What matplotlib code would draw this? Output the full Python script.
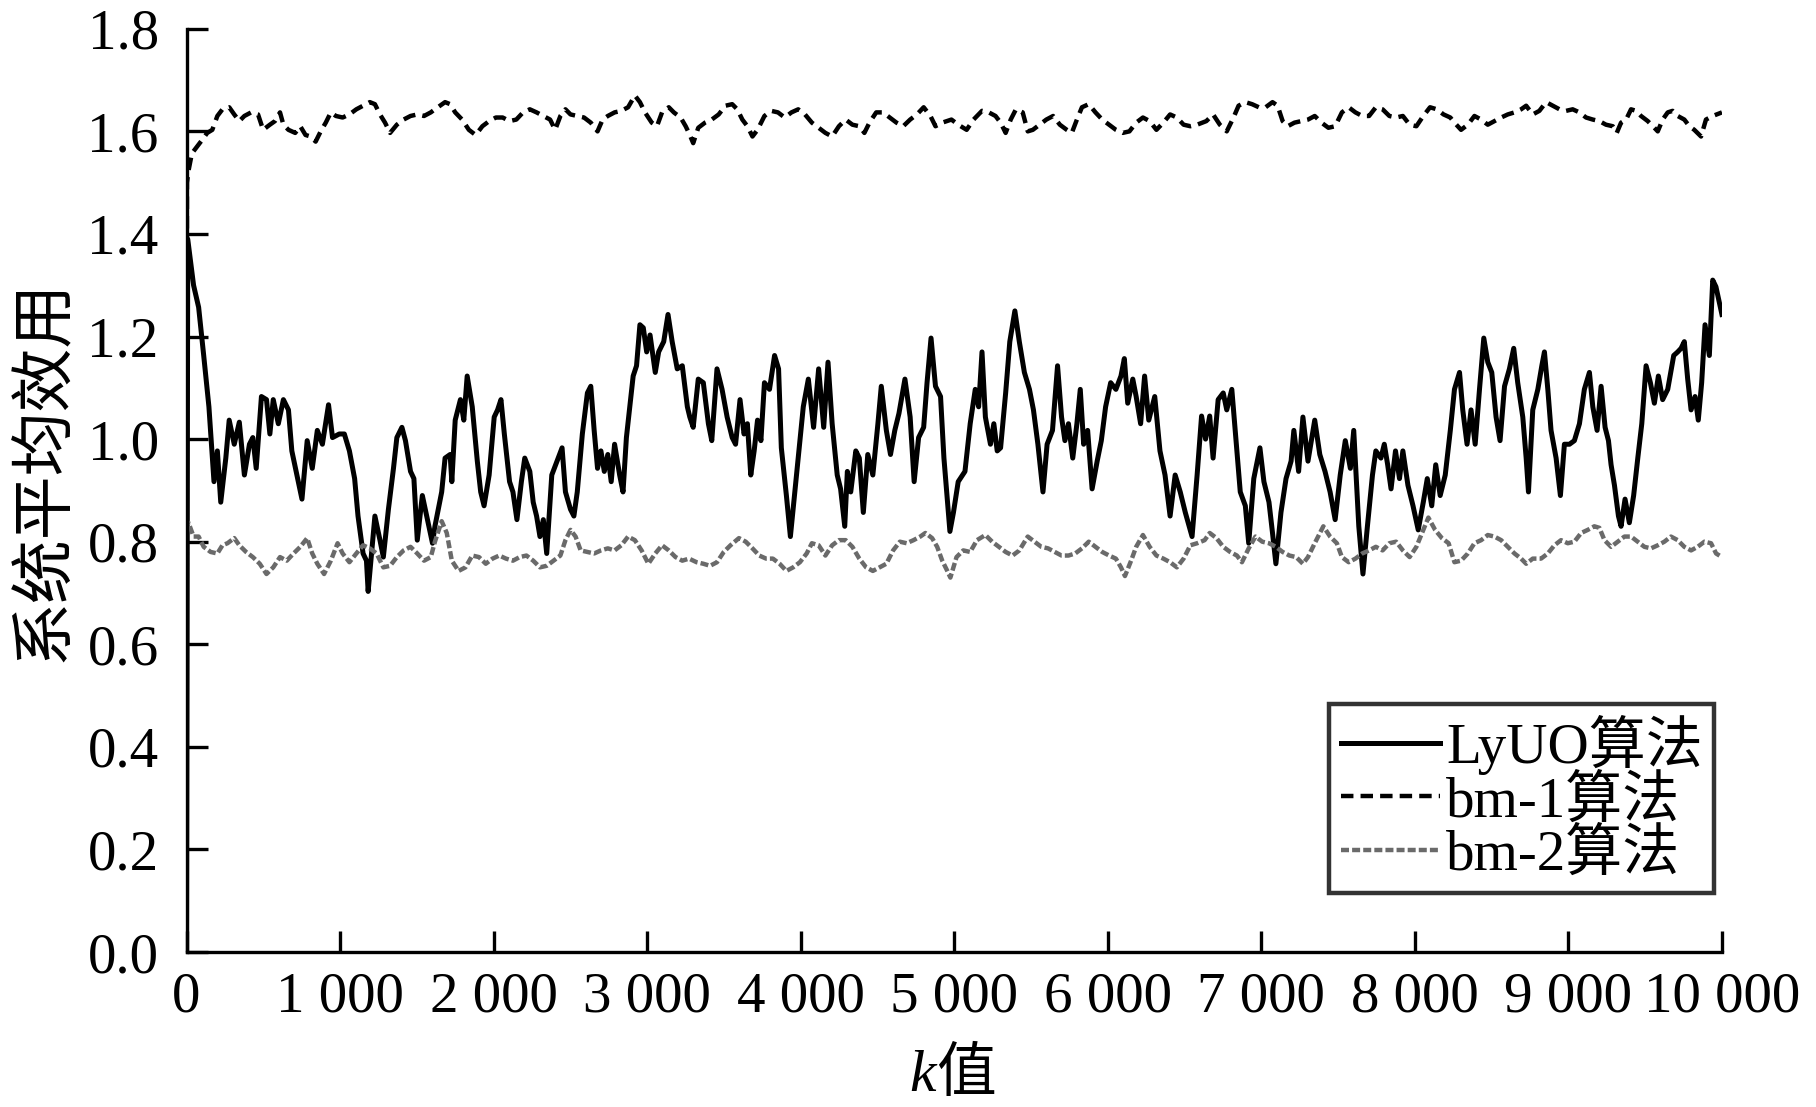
#system average utility vs k for three algorithms
import matplotlib
matplotlib.use("Agg")
import matplotlib.pyplot as plt
from matplotlib.ticker import FuncFormatter, MultipleLocator

#values
lyuo_k = [0, 8, 46, 79, 112, 146, 179, 201, 223, 256, 278, 311, 344, 377, 410, 432, 454, 488, 521, 543, 565, 598,
          631, 664, 686, 719, 752, 786, 819, 852, 885, 925, 951, 995, 1028, 1061, 1095, 1117, 1150, 1172, 1183,
          1205, 1227, 1260, 1282, 1315, 1348, 1370, 1403, 1426, 1459, 1481, 1503, 1536, 1569, 1602,
          1618, 1662, 1684, 1717, 1728, 1750, 1784, 1806, 1828, 1861, 1894, 1916, 1938, 1971, 2004, 2026, 2048,
          2070, 2104, 2126, 2152, 2181, 2203, 2236, 2258, 2280, 2302, 2324, 2346, 2379, 2413, 2446, 2468, 2501,
          2523, 2545, 2578, 2611, 2633, 2655, 2677, 2699, 2721, 2744, 2766, 2788, 2821, 2843, 2865, 2887, 2909,
          2931, 2953, 2975, 2997, 3019, 3053, 3075, 3108, 3136, 3163, 3196, 3229, 3262,
          3278, 3300, 3333, 3366, 3399, 3421, 3455, 3488, 3521, 3554, 3576, 3605, 3631, 3653, 3675, 3697, 3719,
          3741, 3764, 3797, 3830, 3856, 3874, 3907, 3933, 3962, 3989, 4017, 4050, 4084, 4117, 4150, 4178, 4205,
          4238, 4260, 4287, 4304, 4326, 4359, 4382, 4408, 4437, 4470, 4503, 4525, 4558, 4585, 4613, 4640, 4679,
          4713, 4739, 4768, 4801, 4823, 4849, 4878, 4911, 4933,
          4950, 4972, 4995, 5026, 5070, 5104, 5137, 5159, 5181, 5203, 5236, 5258, 5280, 5302, 5335, 5362, 5395,
          5424, 5457, 5490, 5516, 5545, 5578, 5605, 5640, 5673, 5699, 5721, 5744, 5772, 5799, 5821, 5843, 5869,
          5898, 5931, 5958, 5986, 6019, 6053, 6086, 6108, 6130, 6163, 6185, 6214, 6240, 6267, 6306, 6340, 6373,
          6406, 6439, 6472, 6505, 6549, 6582,
          6611, 6637, 6664, 6686, 6719, 6752, 6775, 6808, 6841, 6863, 6896, 6918, 6951, 6991, 7017, 7050, 7073,
          7095, 7128, 7161, 7194, 7212, 7243, 7271, 7304, 7348, 7381, 7415, 7448, 7481, 7514, 7547, 7580, 7602,
          7635, 7662, 7691, 7724, 7746, 7779, 7801, 7823, 7845, 7874, 7900, 7922, 7955, 7988, 8022, 8055, 8081,
          8110, 8136, 8165, 8198, 8231,
          8258, 8291, 8312, 8340, 8366, 8393, 8421, 8449, 8475, 8501, 8529, 8555, 8584, 8616, 8644, 8670, 8703,
          8725, 8740, 8768, 8801, 8827, 8844, 8866, 8887, 8920, 8948, 8974, 9007, 9039, 9072, 9104, 9137, 9159,
          9187, 9213, 9239, 9261, 9278, 9300, 9326, 9343, 9369, 9397, 9425, 9452, 9478, 9506, 9534, 9560, 9586,
          9614, 9647, 9686, 9712, 9734, 9755, 9777, 9799, 9825, 9846, 9868, 9890, 9918, 9940, 9961, 10000]
lyuo_v = [0.0, 1.39, 1.30, 1.257, 1.163, 1.063, 0.917, 0.977, 0.877, 0.963, 1.037, 0.99, 1.033, 0.93, 0.99, 1.003,
          0.943, 1.083, 1.077, 1.01, 1.077, 1.03, 1.077, 1.057, 0.977, 0.93, 0.883, 0.997, 0.943, 1.017, 0.99,
          1.067, 1.003, 1.01, 1.01, 0.977, 0.923, 0.85, 0.777, 0.763, 0.703, 0.777, 0.85, 0.803, 0.77, 0.863,
          0.943, 1.003, 1.023, 0.997, 0.937, 0.923, 0.803, 0.89, 0.843, 0.797,
          0.83, 0.897, 0.963, 0.97, 0.917, 1.037, 1.077, 1.037, 1.123, 1.063, 0.957, 0.897, 0.87, 0.93, 1.043,
          1.057, 1.077, 1.01, 0.917, 0.897, 0.843, 0.917, 0.963, 0.937, 0.877, 0.85, 0.81, 0.843, 0.777, 0.93,
          0.957, 0.983, 0.897, 0.863, 0.85, 0.897, 1.01, 1.09, 1.103, 1.017, 0.943, 0.977, 0.937, 0.97, 0.917,
          0.99, 0.93, 0.897, 1.003, 1.063, 1.123, 1.143, 1.223, 1.217, 1.17, 1.203, 1.13, 1.17, 1.19, 1.243,
          1.19, 1.137, 1.143, 1.063,
          1.043, 1.023, 1.117, 1.11, 1.03, 0.997, 1.137, 1.097, 1.043, 1.003, 0.99, 1.077, 1.01, 1.03, 0.93,
          0.977, 1.037, 0.997, 1.11, 1.097, 1.163, 1.137, 0.983, 0.89, 0.81, 0.897, 0.977, 1.063, 1.117, 1.023,
          1.137, 1.023, 1.15, 1.03, 0.93, 0.903, 0.83, 0.937, 0.897, 0.977, 0.963, 0.857, 0.97, 0.93, 1.03,
          1.103, 1.017, 0.97, 1.017, 1.05, 1.117, 1.043, 0.917, 1.003, 1.023, 1.11, 1.197, 1.103, 1.083, 0.963,
          0.90, 0.82, 0.857, 0.917, 0.937, 1.03, 1.097, 1.063, 1.17, 1.043, 0.99, 1.03, 0.977, 0.983, 1.09, 1.19,
          1.25, 1.19, 1.13, 1.097, 1.057, 0.99, 0.897, 0.99, 1.017, 1.143, 1.043, 0.997, 1.03, 0.963, 1.03,
          1.097, 0.99, 1.017, 0.903, 0.957, 0.997, 1.063, 1.11, 1.097, 1.123, 1.157, 1.07, 1.117, 1.083, 1.03,
          1.123, 1.037, 1.083, 0.977, 0.93, 0.85, 0.93, 0.897, 0.857, 0.81, 0.93,
          1.045, 1.0, 1.045, 0.963, 1.077, 1.09, 1.057, 1.097, 0.977, 0.897, 0.87, 0.797, 0.923, 0.983, 0.917,
          0.877, 0.817, 0.757, 0.857, 0.923, 0.957, 1.017, 0.937, 1.043, 0.957, 1.037, 0.97, 0.937, 0.897,
          0.843, 0.93, 0.997, 0.943, 1.017, 0.83, 0.737, 0.83, 0.93, 0.977, 0.963, 0.99, 0.95, 0.903, 0.977,
          0.923, 0.977, 0.91, 0.87, 0.823, 0.877, 0.923, 0.87, 0.95, 0.89, 0.93, 1.017,
          1.097, 1.13, 1.057, 0.99, 1.057, 0.99, 1.097, 1.197, 1.15, 1.13, 1.043, 0.997, 1.103, 1.137, 1.177,
          1.11, 1.043, 0.963, 0.897, 1.057, 1.097, 1.143, 1.17, 1.097, 1.017, 0.963, 0.89, 0.99, 0.99, 0.997,
          1.03, 1.097, 1.13, 1.063, 1.017, 1.103, 1.023, 0.997, 0.95, 0.91, 0.85, 0.83, 0.883, 0.837, 0.89,
          0.963, 1.03, 1.143, 1.11, 1.07, 1.123, 1.077, 1.097, 1.163, 1.17, 1.177, 1.19, 1.117, 1.057, 1.083,
          1.037, 1.11, 1.223, 1.163, 1.31, 1.297, 1.243]

bm1_k = [0, 3, 13, 35, 68, 101, 135, 168, 201, 234, 278, 311, 344, 377, 421, 466, 499, 543, 576, 609, 631, 664,
         708, 741, 775, 808, 841, 874, 907, 940, 973, 1017, 1061, 1106, 1150, 1194, 1227, 1260, 1293, 1326, 1370,
         1414, 1459, 1503, 1547, 1591,
         1618, 1684, 1717, 1750, 1795, 1839, 1883, 1927, 1971, 2015, 2059, 2104, 2148, 2192, 2236, 2280, 2324,
         2368, 2401, 2435, 2468, 2501, 2545, 2589, 2633, 2677, 2710, 2744, 2788, 2832, 2876, 2920, 2953, 2986,
         3030, 3064, 3097, 3141, 3174, 3218, 3251,
         3278, 3300, 3333, 3377, 3421, 3466, 3510, 3554, 3587, 3620, 3653, 3686, 3719, 3764, 3808, 3852, 3896,
         3940, 3984, 4028, 4073, 4117, 4161, 4205, 4249, 4293, 4337, 4382, 4415, 4448, 4492, 4536, 4580, 4624,
         4668, 4713, 4757, 4801, 4845, 4878, 4922,
         4982, 5026, 5081, 5126, 5181, 5225, 5269, 5302, 5335, 5368, 5402, 5446, 5479, 5512, 5556, 5600, 5644,
         5688, 5733, 5766, 5799, 5832, 5876, 5920, 5964, 6009, 6053, 6097, 6141, 6185, 6229, 6273, 6317, 6362,
         6406, 6450, 6494, 6538, 6582,
         6642, 6686, 6730, 6775, 6819, 6852, 6896, 6940, 6984, 7028, 7073, 7106, 7139, 7172, 7216, 7260, 7304,
         7348, 7392, 7437, 7481, 7525, 7569, 7613, 7657, 7702, 7746, 7790, 7834, 7878, 7922, 7966, 8010, 8055,
         8099, 8143, 8187, 8231,
         8258, 8301, 8345, 8388, 8432, 8475, 8518, 8562, 8605, 8649, 8692, 8725, 8768, 8811, 8855, 8898, 8942,
         8985, 9028, 9072, 9115, 9159, 9202, 9245, 9289, 9315, 9343, 9376, 9408, 9441, 9473, 9517, 9560, 9582,
         9614, 9647, 9679, 9712, 9755, 9788, 9820, 9864, 9896, 9940, 10000]
bm1_v = [0.0, 1.50, 1.523, 1.557, 1.57, 1.583, 1.597, 1.603, 1.63, 1.643, 1.647, 1.633, 1.62, 1.63, 1.637, 1.633,
         1.603, 1.613, 1.62, 1.637, 1.613, 1.603, 1.597, 1.61, 1.593, 1.59, 1.58, 1.6, 1.617, 1.637, 1.63, 1.627,
         1.633, 1.643, 1.65, 1.657, 1.653, 1.633, 1.617, 1.597, 1.613, 1.623, 1.63, 1.633, 1.63, 1.637,
         1.643, 1.657, 1.653, 1.637, 1.623, 1.603, 1.593, 1.61, 1.62, 1.627, 1.627, 1.62, 1.623, 1.637, 1.643,
         1.637, 1.63, 1.623, 1.603, 1.63, 1.643, 1.633, 1.63, 1.627, 1.617, 1.6, 1.623, 1.63, 1.637, 1.64, 1.647,
         1.67, 1.657, 1.637, 1.617, 1.61, 1.637, 1.647, 1.637, 1.627, 1.61,
         1.593, 1.577, 1.607, 1.617, 1.623, 1.633, 1.65, 1.653, 1.643, 1.623, 1.61, 1.59, 1.603, 1.63, 1.64,
         1.637, 1.627, 1.637, 1.643, 1.633, 1.617, 1.607, 1.597, 1.59, 1.61, 1.623, 1.613, 1.61, 1.597, 1.617,
         1.637, 1.637, 1.627, 1.617, 1.61, 1.623, 1.633, 1.647, 1.63, 1.61, 1.617,
         1.623, 1.613, 1.603, 1.623, 1.64, 1.637, 1.63, 1.617, 1.597, 1.623, 1.643, 1.637, 1.6, 1.603, 1.613,
         1.623, 1.63, 1.613, 1.603, 1.597, 1.623, 1.647, 1.653, 1.637, 1.623, 1.613, 1.603, 1.597, 1.6, 1.617,
         1.627, 1.62, 1.603, 1.617, 1.633, 1.627, 1.613, 1.61, 1.613,
         1.62, 1.633, 1.613, 1.6, 1.627, 1.65, 1.657, 1.653, 1.647, 1.647, 1.657, 1.65, 1.62, 1.61, 1.617, 1.62,
         1.623, 1.63, 1.617, 1.607, 1.61, 1.637, 1.647, 1.637, 1.63, 1.63, 1.647, 1.643, 1.63, 1.627, 1.63,
         1.613, 1.61, 1.63, 1.647, 1.643, 1.633, 1.627,
         1.617, 1.603, 1.613, 1.63, 1.623, 1.613, 1.62, 1.627, 1.633, 1.637, 1.643, 1.65, 1.633, 1.64, 1.657,
         1.65, 1.643, 1.64, 1.643, 1.637, 1.627, 1.623, 1.62, 1.613, 1.61, 1.597, 1.617, 1.623, 1.643, 1.64,
         1.63, 1.62, 1.607, 1.6, 1.623, 1.637, 1.64, 1.63, 1.623, 1.61, 1.603, 1.59, 1.623, 1.63, 1.637]

bm2_k = [0, 3, 13, 46, 79, 112, 157, 201, 234, 267, 311, 344, 388, 432, 477, 521, 565, 609, 653, 697, 741, 786,
         819, 852, 896, 940, 984, 1017, 1061, 1106, 1150, 1194, 1238, 1282, 1326, 1370, 1414, 1459, 1503, 1547,
         1591,
         1618, 1662, 1695, 1728, 1772, 1817, 1861, 1905, 1949, 1993, 2037, 2081, 2126, 2170, 2214, 2258, 2302,
         2346, 2390, 2435, 2468, 2501, 2534, 2567, 2611, 2655, 2699, 2744, 2788, 2832, 2876, 2920, 2964, 3008,
         3053, 3097, 3141, 3185, 3229, 3273,
         3322, 3366, 3410, 3455, 3499, 3543, 3598, 3642, 3686, 3730, 3775, 3819, 3863, 3907, 3951, 3995, 4039,
         4073, 4117, 4161, 4205, 4249, 4293, 4337, 4382, 4426, 4470, 4514, 4558, 4602, 4646, 4690, 4735, 4779,
         4812, 4856, 4889, 4922,
         4955, 4975, 5015, 5059, 5104, 5148, 5203, 5247, 5291, 5335, 5380, 5424, 5479, 5523, 5567, 5611, 5655,
         5699, 5744, 5788, 5832, 5876, 5920, 5964, 6009, 6053, 6086, 6112, 6152, 6185, 6229, 6273, 6317, 6362,
         6406, 6450, 6494, 6538, 6582,
         6631, 6664, 6708, 6752, 6797, 6841, 6874, 6918, 6962, 7006, 7050, 7095, 7139, 7183, 7227, 7271, 7304,
         7348, 7404, 7448, 7492, 7525, 7569, 7613, 7657, 7702, 7746, 7790, 7834, 7878, 7922, 7966, 8010, 8055,
         8088, 8132, 8176, 8220,
         8258, 8301, 8345, 8388, 8432, 8475, 8518, 8562, 8605, 8649, 8692, 8725, 8768, 8822, 8866, 8909, 8952,
         8996, 9039, 9083, 9126, 9169, 9202, 9235, 9278, 9321, 9365, 9408, 9452, 9495, 9538, 9582, 9625, 9668,
         9712, 9755, 9799, 9842, 9886, 9929, 9962, 10000]
bm2_v = [0.0, 0.83, 0.837, 0.81, 0.81, 0.79, 0.78, 0.777, 0.793, 0.797, 0.807, 0.793, 0.78, 0.77, 0.757, 0.737,
         0.75, 0.77, 0.763, 0.777, 0.79, 0.807, 0.777, 0.757, 0.737, 0.763, 0.797, 0.777, 0.76, 0.777, 0.793,
         0.787, 0.777, 0.75, 0.753, 0.77, 0.783, 0.79, 0.777, 0.763, 0.77,
         0.80, 0.84, 0.817, 0.763, 0.743, 0.75, 0.773, 0.77, 0.757, 0.767, 0.773, 0.767, 0.763, 0.77, 0.773,
         0.763, 0.75, 0.753, 0.763, 0.773, 0.803, 0.823, 0.81, 0.783, 0.78, 0.777, 0.783, 0.787, 0.783, 0.793,
         0.81, 0.803, 0.783, 0.757, 0.777, 0.793, 0.783, 0.77, 0.763, 0.767,
         0.76, 0.757, 0.753, 0.76, 0.78, 0.793, 0.807, 0.8, 0.787, 0.773, 0.767, 0.767, 0.757, 0.743, 0.75,
         0.76, 0.777, 0.797, 0.793, 0.773, 0.793, 0.803, 0.803, 0.79, 0.767, 0.75, 0.743, 0.75, 0.757, 0.783,
         0.8, 0.797, 0.803, 0.81, 0.817, 0.807, 0.79, 0.763,
         0.743, 0.73, 0.77, 0.783, 0.78, 0.803, 0.813, 0.8, 0.79, 0.78, 0.773, 0.783, 0.81, 0.8, 0.79, 0.787,
         0.78, 0.773, 0.773, 0.777, 0.787, 0.8, 0.79, 0.78, 0.773, 0.767, 0.75, 0.733, 0.763, 0.79, 0.813, 0.79,
         0.773, 0.767, 0.76, 0.75, 0.767, 0.793, 0.797,
         0.803, 0.817, 0.807, 0.79, 0.78, 0.773, 0.76, 0.787, 0.81, 0.8, 0.797, 0.79, 0.78, 0.773, 0.77, 0.757,
         0.77, 0.797, 0.83, 0.81, 0.797, 0.77, 0.76, 0.767, 0.777, 0.783, 0.79, 0.783, 0.797, 0.8, 0.783, 0.77,
         0.79, 0.823, 0.847, 0.823, 0.807, 0.797,
         0.76, 0.763, 0.777, 0.797, 0.803, 0.813, 0.81, 0.803, 0.79, 0.777, 0.767, 0.757, 0.767, 0.767, 0.777,
         0.793, 0.803, 0.797, 0.8, 0.817, 0.823, 0.83, 0.827, 0.803, 0.79, 0.8, 0.81, 0.81, 0.8, 0.79, 0.787,
         0.793, 0.8, 0.81, 0.803, 0.79, 0.783, 0.79, 0.8, 0.797, 0.777, 0.77]

labels = ["LyUO算法", "bm-1算法", "bm-2算法"]

serif = ["Liberation Serif", "Noto Sans CJK SC"]
plt.rcParams['font.family'] = serif
plt.rcParams['font.size'] = 41

fig = plt.figure(figsize=(18.16, 11.07), dpi=100)
ax = fig.add_axes([0.1027, 0.140, 0.8455, 0.834])

ax.plot(lyuo_k, lyuo_v, color='black', lw=3.6, label=labels[0])
ax.plot(bm1_k, bm1_v, color='black', lw=3.2, dashes=(2.8, 1.6), label=labels[1])
ax.plot(bm2_k, bm2_v, color='#6a6a6a', lw=3.2, dashes=(1.8, 0.7), label=labels[2])

ax.set_xlim(0, 10000)
ax.set_ylim(0, 1.8)
ax.xaxis.set_major_locator(MultipleLocator(1000))
ax.yaxis.set_major_locator(MultipleLocator(0.2))
ax.xaxis.set_major_formatter(FuncFormatter(lambda v, p: f"{int(round(v)):,}".replace(",", " ")))
ax.yaxis.set_major_formatter(FuncFormatter(lambda v, p: f"{v:.1f}"))

for s in ['top', 'right']:
    ax.spines[s].set_visible(False)
for s in ['left', 'bottom']:
    ax.spines[s].set_linewidth(2.4)
ax.tick_params(direction='in', length=15, width=2.4, labelsize=41)
ax.tick_params(axis='x', pad=14)
ax.tick_params(axis='y', pad=20)

#axis labels
ax.text(-0.093, 0.522, "系统平均效用", rotation=90, ha='center', va='center',
        fontsize=46, family="Noto Sans CJK SC", transform=ax.transAxes)
ax.text(0.488, -0.150, "k", ha='right', va='baseline', fontsize=43, style='italic',
        family="Liberation Serif", transform=ax.transAxes)
ax.text(0.488, -0.150, "值", ha='left', va='baseline', fontsize=43,
        family="Noto Sans CJK SC", transform=ax.transAxes)

leg = ax.legend(loc='lower right', bbox_to_anchor=(0.995, 0.064), borderaxespad=0,
                fontsize=41, frameon=True, fancybox=False, handlelength=1.75,
                handletextpad=0.1, labelspacing=0.0, borderpad=0.2)
leg.get_frame().set_edgecolor('black')
leg.get_frame().set_linewidth(3.2)

plt.savefig("out.png", dpi=100)
